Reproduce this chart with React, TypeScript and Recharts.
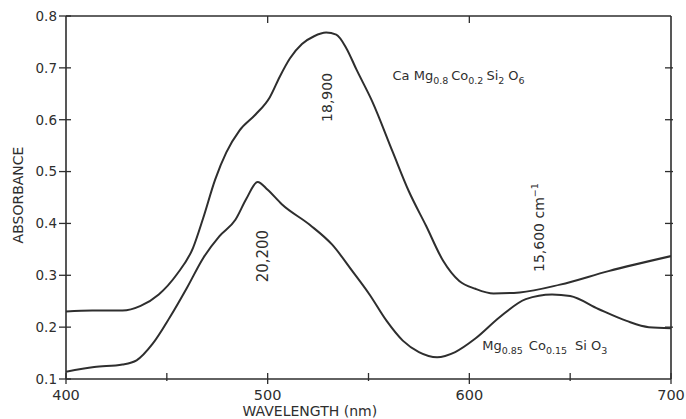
import React from 'react';
import { LineChart, Line, XAxis, YAxis, ReferenceDot } from 'recharts';

// ---- data ----
const upperWavelength = [400, 413, 428, 437, 446, 455, 463, 468, 474, 479.5, 486, 494, 501, 506, 511, 517, 523, 529, 534, 539, 544, 552, 562, 570, 578.6, 587, 595, 603, 612, 625, 645, 669, 700];
const upperAbsorbance = [0.230, 0.232, 0.232, 0.241, 0.263, 0.302, 0.353, 0.410, 0.485, 0.537, 0.579, 0.610, 0.643, 0.683, 0.718, 0.746, 0.761, 0.768, 0.764, 0.738, 0.697, 0.634, 0.538, 0.462, 0.395, 0.328, 0.289, 0.274, 0.265, 0.267, 0.282, 0.308, 0.337];

const lowerWavelength = [400, 414, 428, 435, 443, 451.5, 460, 468, 476, 484, 489.5, 495, 500, 507, 521, 532, 542, 550.5, 559, 567, 575, 584, 593, 603, 615, 628, 641, 650, 664, 678, 689, 700];
const lowerAbsorbance = [0.114, 0.123, 0.128, 0.136, 0.168, 0.219, 0.276, 0.333, 0.375, 0.407, 0.448, 0.480, 0.465, 0.437, 0.397, 0.359, 0.308, 0.263, 0.212, 0.174, 0.152, 0.142, 0.152, 0.178, 0.219, 0.254, 0.263, 0.260, 0.235, 0.212, 0.200, 0.198];

const xTicks = [400, 450, 500, 550, 600, 650, 700];
const xLabelTicks = [400, 500, 600, 700];
const topTicks = [500, 600];
const yTicks = [0.1, 0.2, 0.3, 0.4, 0.5, 0.6, 0.7, 0.8];
const rightTicks = [0.2, 0.3, 0.4, 0.5, 0.6, 0.7];

const upperData = upperWavelength.map((x, i) => ({ x, y: upperAbsorbance[i] }));
const lowerData = lowerWavelength.map((x, i) => ({ x, y: lowerAbsorbance[i] }));

const INK = '#2e2e2e';
const FONT = '"DejaVu Sans", sans-serif';

const BottomTick = (props: any) => {
  const { x, y, payload } = props;
  const v = payload.value;
  const major = xLabelTicks.includes(v);
  return (
    <g>
      <line x1={x} x2={x} y1={y - 6} y2={y + (major ? 5 : 2)} stroke={INK} strokeWidth={1.3} />
      {major && (
        <text x={x} y={y + 21} textAnchor="middle" fontSize={14.5} fill={INK} fontFamily={FONT}>
          {v}
        </text>
      )}
    </g>
  );
};

const TopTick = (props: any) => {
  const { x, y } = props;
  return <line x1={x} x2={x} y1={y} y2={y + 7} stroke={INK} strokeWidth={1.3} />;
};

const LeftTick = (props: any) => {
  const { x, y, payload } = props;
  return (
    <g>
      <line x1={x - 7} x2={x + 5} y1={y} y2={y} stroke={INK} strokeWidth={1.3} />
      <text x={x - 9} y={y} dy="0.36em" textAnchor="end" fontSize={13.5} fill={INK} fontFamily={FONT}>
        {Number(payload.value).toFixed(1)}
      </text>
    </g>
  );
};

const RightTick = (props: any) => {
  const { x, y } = props;
  return <line x1={x - 6} x2={x + 2} y1={y} y2={y} stroke={INK} strokeWidth={1.3} />;
};

const SUB = 9.5;
const MAIN = 13;

const CaLabel = (p: any) => (
  <text x={p.cx} y={p.cy} fontSize={MAIN} fill={INK} fontFamily={FONT}>
    {'Ca Mg'}
    <tspan dy={4} fontSize={SUB}>0.8</tspan>
    <tspan dy={-4} dx={3}>Co</tspan>
    <tspan dy={4} fontSize={SUB}>0.2</tspan>
    <tspan dy={-4} dx={3}>Si</tspan>
    <tspan dy={4} fontSize={SUB}>2</tspan>
    <tspan dy={-4} dx={4}>O</tspan>
    <tspan dy={4} fontSize={SUB}>6</tspan>
  </text>
);

const MgLabel = (p: any) => (
  <text x={p.cx} y={p.cy} fontSize={MAIN} fill={INK} fontFamily={FONT}>
    {'Mg'}
    <tspan dy={4} fontSize={SUB}>0.85</tspan>
    <tspan dy={-4} dx={6}>Co</tspan>
    <tspan dy={4} fontSize={SUB}>0.15</tspan>
    <tspan dy={-4} dx={8}>Si</tspan>
    <tspan dx={4}>O</tspan>
    <tspan dy={4} fontSize={SUB}>3</tspan>
  </text>
);

const rotated = (text: string, size: number) => (p: any) => (
  <text
    x={p.cx}
    y={p.cy}
    dy="0.36em"
    transform={`rotate(-90 ${p.cx} ${p.cy})`}
    textAnchor="middle"
    fontSize={size}
    fill={INK}
    fontFamily={FONT}
  >
    {text}
  </text>
);

const WaveLabel = (p: any) => (
  <text
    x={p.cx}
    y={p.cy}
    dy="0.36em"
    transform={`rotate(-90 ${p.cx} ${p.cy})`}
    textAnchor="middle"
    fontSize={14}
    fill={INK}
    fontFamily={FONT}
  >
    {'15,600 cm'}
    <tspan dy={-6} fontSize={SUB}>−1</tspan>
  </text>
);

const XTitle = (p: any) => {
  const vb = p.viewBox || {};
  return (
    <text x={vb.x + vb.width * 0.403} y={vb.y + 37} textAnchor="middle" fontSize={14} fill={INK} fontFamily={FONT}>
      WAVELENGTH (nm)
    </text>
  );
};

const YTitle = (p: any) => {
  const vb = p.viewBox || {};
  const cx = 23;
  const cy = vb.y + vb.height * 0.493;
  return (
    <text x={cx} y={cy} transform={`rotate(-90 ${cx} ${cy})`} textAnchor="middle" fontSize={14} fill={INK} fontFamily={FONT}>
      ABSORBANCE
    </text>
  );
};

export default function App() {
  return (
    <div style={{ position: 'absolute', left: 0, top: 0, width: 686, height: 419, background: '#fff' }}>
      <LineChart width={686} height={419} margin={{ top: 15, right: 14, bottom: 0, left: 0 }}>
        <XAxis
          xAxisId="b"
          type="number"
          dataKey="x"
          domain={[400, 700]}
          ticks={xTicks}
          interval={0}
          tickSize={0}
          tickMargin={0}
          height={40}
          axisLine={{ stroke: INK, strokeWidth: 1.6 }}
          tick={BottomTick}
          allowDataOverflow
          label={XTitle}
        />
        <XAxis
          xAxisId="t"
          orientation="top"
          type="number"
          dataKey="x"
          domain={[400, 700]}
          ticks={topTicks}
          interval={0}
          tickSize={0}
          tickMargin={0}
          height={1}
          axisLine={{ stroke: INK, strokeWidth: 1.6 }}
          tick={TopTick}
          allowDataOverflow
        />
        <YAxis
          yAxisId="l"
          type="number"
          domain={[0.1, 0.8]}
          ticks={yTicks}
          interval={0}
          width={66}
          tickSize={0}
          tickMargin={0}
          axisLine={{ stroke: INK, strokeWidth: 1.6 }}
          tick={LeftTick}
          allowDataOverflow
          label={YTitle}
        />
        <YAxis
          yAxisId="r"
          orientation="right"
          type="number"
          domain={[0.1, 0.8]}
          ticks={rightTicks}
          interval={0}
          width={1}
          tickSize={0}
          tickMargin={0}
          axisLine={{ stroke: INK, strokeWidth: 1.6 }}
          tick={RightTick}
          allowDataOverflow
        />
        <Line
          xAxisId="b"
          yAxisId="l"
          data={upperData}
          dataKey="y"
          type="monotone"
          dot={false}
          stroke={INK}
          strokeWidth={2}
          isAnimationActive={false}
        />
        <Line
          xAxisId="b"
          yAxisId="l"
          data={lowerData}
          dataKey="y"
          type="monotone"
          dot={false}
          stroke={INK}
          strokeWidth={2}
          isAnimationActive={false}
        />
        <Line xAxisId="t" yAxisId="r" data={upperData} dataKey="y" stroke="none" dot={false} isAnimationActive={false} />
        <ReferenceDot xAxisId="b" yAxisId="l" x={561.9} y={0.676} shape={CaLabel} />
        <ReferenceDot xAxisId="b" yAxisId="l" x={606.4} y={0.156} shape={MgLabel} />
        <ReferenceDot xAxisId="b" yAxisId="l" x={529.2} y={0.643} shape={rotated('18,900', 14)} />
        <ReferenceDot xAxisId="b" yAxisId="l" x={497.3} y={0.337} shape={rotated('20,200', 15)} />
        <ReferenceDot xAxisId="b" yAxisId="l" x={634.4} y={0.392} shape={WaveLabel} />
      </LineChart>
    </div>
  );
}
